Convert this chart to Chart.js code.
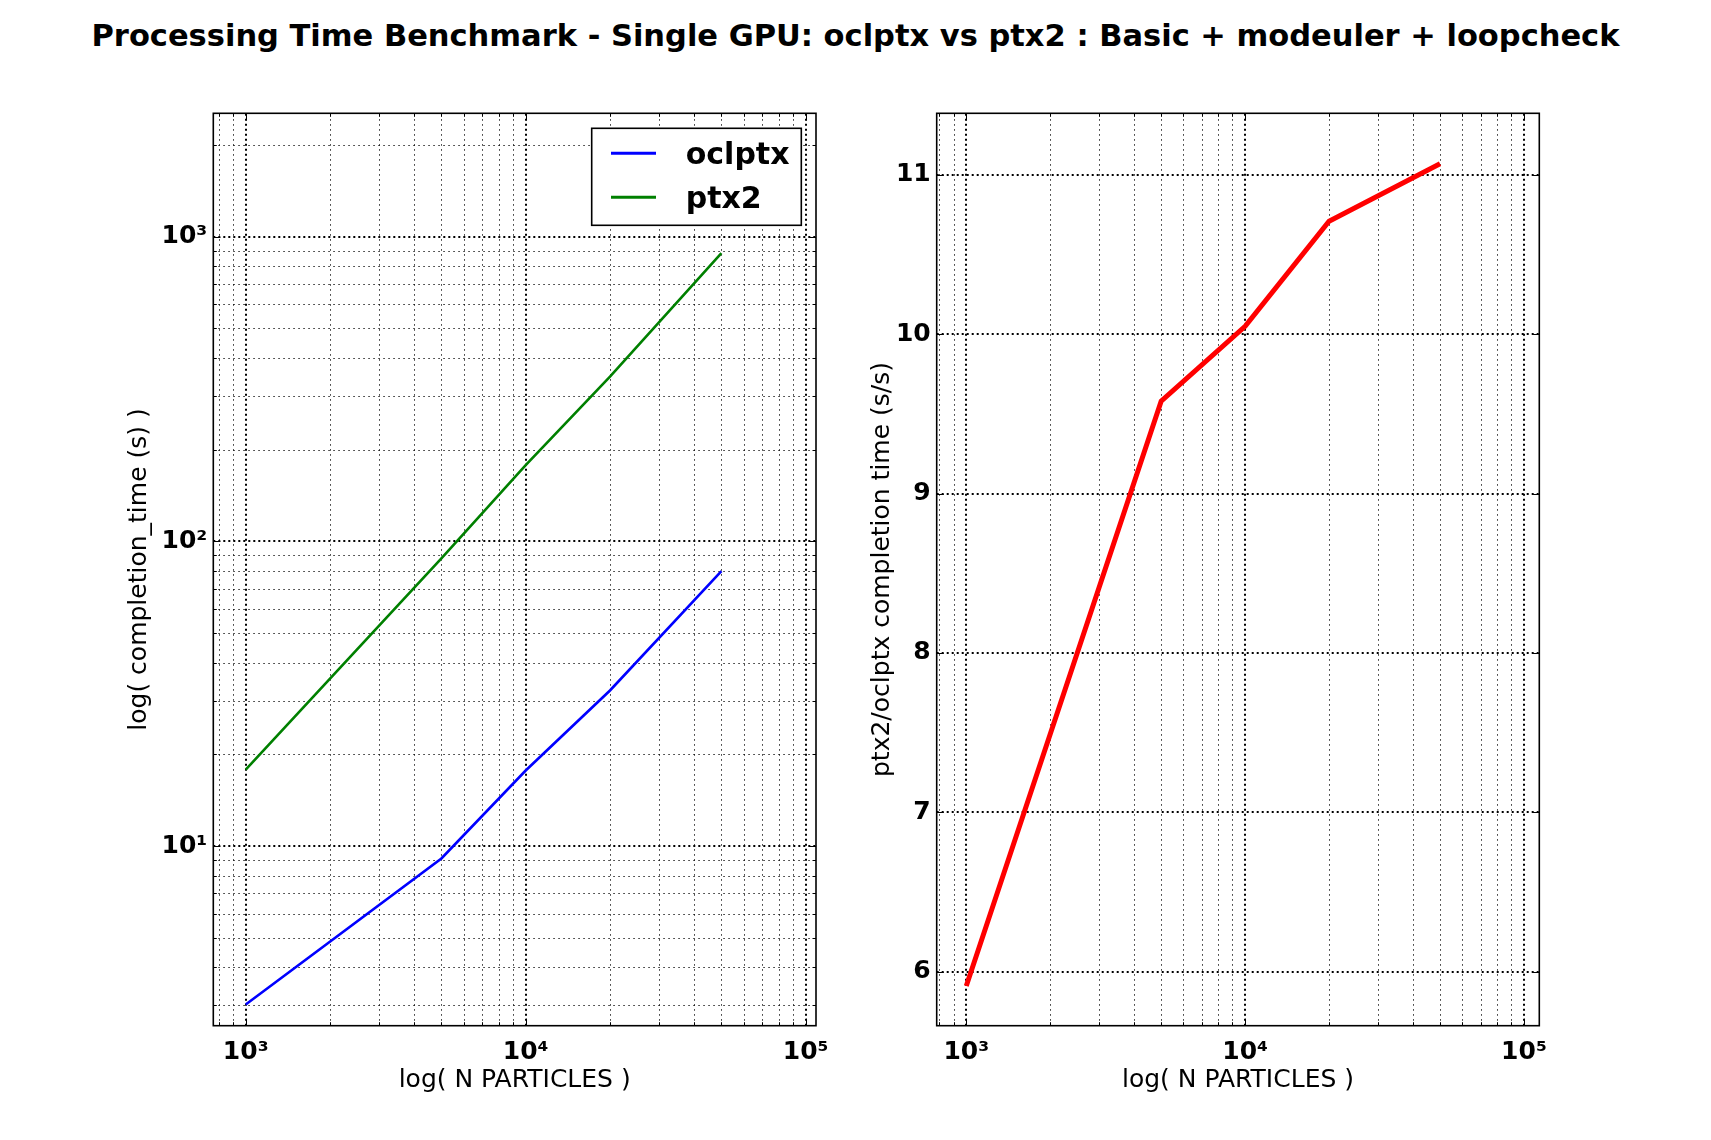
<!DOCTYPE html>
<html>
<head>
<meta charset="utf-8">
<script src="https://cdn.jsdelivr.net/npm/chart.js@4"></script>
<style>
  html, body { margin: 0; padding: 0; background: #ffffff; }
  #wrap { position: relative; width: 1711px; height: 1140px; overflow: hidden; background: #ffffff; }
  #title { position: absolute; left: 0; top: 19px; width: 1711px; text-align: center;
           font-family: 'DejaVu Sans', sans-serif; font-weight: bold; font-size: 30.5px; line-height: 34px; color: #000; }
  canvas { position: absolute; left: 0; top: 0; pointer-events: none; }
</style>
</head>
<body>
<div id="wrap">
  <div id="title">Processing Time Benchmark - Single GPU: oclptx vs ptx2 : Basic + modeuler + loopcheck</div>
  <canvas id="left" width="1711" height="1140"></canvas>
  <canvas id="right" width="1711" height="1140"></canvas>
</div>
<script>
// ---------------- data ----------------
const nParticles = [1000, 5000, 10000, 20000, 50000];
const oclptxTime = [3.02, 9.1, 17.7, 32.4, 79.8];
const ptx2Time   = [17.8, 88, 178, 347, 883];
const timeRatio  = [5.91, 9.58, 10.05, 10.71, 11.07];

const seriesNames = ['oclptx', 'ptx2'];
const ratioName = 'ptx2/oclptx';

// ---------------- ticks ----------------
const xMajorTicks = [1000, 10000, 100000];
const xTickLabels = ['10³', '10⁴', '10⁵'];
const xMinorTicks = [800, 900, 2000, 3000, 4000, 5000, 6000, 7000, 8000, 9000,
                     20000, 30000, 40000, 50000, 60000, 70000, 80000, 90000];
const yTimeMajorTicks = [10, 100, 1000];
const yTimeTickLabels = ['10¹', '10²', '10³'];
const yTimeMinorTicks = [3, 4, 5, 6, 7, 8, 9, 20, 30, 40, 50, 60, 70, 80, 90,
                         200, 300, 400, 500, 600, 700, 800, 900, 2000];
const yRatioTicks = [6, 7, 8, 9, 10, 11];
const yRatioTickLabels = ['6', '7', '8', '9', '10', '11'];

// ---------------- helpers ----------------
Chart.defaults.font.family = "'DejaVu Sans', sans-serif";
Chart.defaults.color = '#000000';

function pts(xs, ys) { return xs.map((x, i) => ({ x: x, y: ys[i] })); }

function fixedTicks(values, labels) {
  return {
    afterBuildTicks: (s) => { s.ticks = values.map(v => ({ value: v, major: true })); },
    label: (v) => { const i = values.indexOf(v); return i >= 0 ? labels[i] : ''; }
  };
}

const mplFrame = {
  id: 'mplFrame',
  beforeDatasetsDraw(chart, args, o) {
    const { ctx, chartArea: a, scales } = chart;
    const x = scales.x, y = scales.y;
    ctx.save();
    ctx.beginPath();
    ctx.rect(a.left, a.top, a.right - a.left, a.bottom - a.top);
    ctx.clip();
    const vline = (px, lw, dash, col) => {
      ctx.beginPath(); ctx.lineWidth = lw; ctx.setLineDash(dash); ctx.strokeStyle = col;
      ctx.moveTo(px, a.bottom); ctx.lineTo(px, a.top); ctx.stroke();
    };
    const hline = (py, lw, dash, col) => {
      ctx.beginPath(); ctx.lineWidth = lw; ctx.setLineDash(dash); ctx.strokeStyle = col;
      ctx.moveTo(a.left, py); ctx.lineTo(a.right, py); ctx.stroke();
    };
    (o.xMinor || []).forEach(v => vline(Math.round(x.getPixelForValue(v)) + 0.5, 1, [1.5, 3.5], 'rgba(0,0,0,0.85)'));
    (o.yMinor || []).forEach(v => hline(Math.round(y.getPixelForValue(v)) + 0.5, 1, [1.5, 3.5], 'rgba(0,0,0,0.85)'));
    (o.xMajor || []).forEach(v => vline(Math.round(x.getPixelForValue(v)), 2, [2, 3], '#000'));
    (o.yMajor || []).forEach(v => hline(Math.round(y.getPixelForValue(v)), 2, [2, 3], '#000'));
    ctx.restore();
  },
  afterDatasetsDraw(chart, args, o) {
    const { ctx, chartArea: a, scales } = chart;
    const x = scales.x, y = scales.y;
    ctx.save();
    ctx.setLineDash([]);
    ctx.strokeStyle = '#000';
    ctx.lineWidth = 1;
    const tickX = (v, len) => {
      const px = Math.round(x.getPixelForValue(v)) + 0.5;
      if (px < a.left || px > a.right) return;
      ctx.beginPath();
      ctx.moveTo(px, a.bottom); ctx.lineTo(px, a.bottom - len);
      ctx.moveTo(px, a.top); ctx.lineTo(px, a.top + len);
      ctx.stroke();
    };
    const tickY = (v, len) => {
      const py = Math.round(y.getPixelForValue(v)) + 0.5;
      if (py < a.top || py > a.bottom) return;
      ctx.beginPath();
      ctx.moveTo(a.left, py); ctx.lineTo(a.left + len, py);
      ctx.moveTo(a.right, py); ctx.lineTo(a.right - len, py);
      ctx.stroke();
    };
    (o.xMinor || []).forEach(v => tickX(v, 3.5));
    (o.yMinor || []).forEach(v => tickY(v, 3.5));
    (o.xMajor || []).forEach(v => tickX(v, 7));
    (o.yMajor || []).forEach(v => tickY(v, 7));
    // frame
    ctx.lineWidth = 1.6;
    ctx.strokeRect(a.left, a.top, a.right - a.left, a.bottom - a.top);
    // legend
    if (o.legend) {
      const ds = chart.data.datasets;
      const bw = 209.6, bh = 97;
      const bx = a.right - 14.7 - bw, by = a.top + 15;
      ctx.fillStyle = '#fff';
      ctx.fillRect(bx, by, bw, bh);
      ctx.lineWidth = 1.6;
      ctx.strokeStyle = '#000';
      ctx.strokeRect(bx, by, bw, bh);
      ds.forEach((d, i) => {
        const ly = by + 25 + i * 44;
        ctx.beginPath();
        ctx.strokeStyle = d.borderColor;
        ctx.lineWidth = 3;
        ctx.moveTo(bx + 19.3, ly); ctx.lineTo(bx + 64.3, ly); ctx.stroke();
        ctx.fillStyle = '#000';
        ctx.font = "bold 30px 'DejaVu Sans'";
        ctx.textAlign = 'left';
        ctx.textBaseline = 'alphabetic';
        ctx.fillText(d.label, bx + 94, ly + 10.5);
      });
    }
    ctx.restore();
  }
};

function axisTitle(text) {
  return { display: true, text: text, font: { size: 25, weight: 'normal' }, color: '#000', padding: { top: 4, bottom: 4 } };
}

const tickFont = { size: 25, weight: 'bold' };

// ---------------- left chart ----------------
const xL = fixedTicks(xMajorTicks, xTickLabels);
const yL = fixedTicks(yTimeMajorTicks, yTimeTickLabels);
new Chart(document.getElementById('left'), {
  type: 'line',
  data: {
    datasets: [
      { label: seriesNames[0], data: pts(nParticles, oclptxTime), borderColor: '#0000ff', borderWidth: 2.6, pointRadius: 0, tension: 0, fill: false },
      { label: seriesNames[1], data: pts(nParticles, ptx2Time), borderColor: '#008000', borderWidth: 2.6, pointRadius: 0, tension: 0, fill: false }
    ]
  },
  options: {
    responsive: false, animation: false, devicePixelRatio: 1,
    layout: { padding: { left: 120, right: 895, top: 113.3, bottom: 40.3 } },
    plugins: {
      legend: { display: false }, tooltip: { enabled: false }, title: { display: false },
      mplFrame: { xMajor: xMajorTicks, xMinor: xMinorTicks, yMajor: yTimeMajorTicks, yMinor: yTimeMinorTicks, legend: true }
    },
    scales: {
      x: {
        type: 'logarithmic', min: 766, max: 108850,
        grid: { display: false, drawTicks: false, tickLength: 0 }, border: { display: false },
        afterBuildTicks: xL.afterBuildTicks,
        afterFit: (s) => { s.height = 74; },
        ticks: { callback: xL.label, font: tickFont, color: '#000', padding: 12, autoSkip: false, maxRotation: 0 },
        title: axisTitle('log( N PARTICLES )')
      },
      y: {
        type: 'logarithmic', min: 2.572, max: 2541,
        grid: { display: false, drawTicks: false, tickLength: 0 }, border: { display: false },
        afterBuildTicks: yL.afterBuildTicks,
        afterFit: (s) => { s.width = 93.3; },
        ticks: { callback: yL.label, font: tickFont, color: '#000', padding: 6, autoSkip: false },
        title: axisTitle('log( completion_time (s) )')
      }
    }
  },
  plugins: [mplFrame]
});

// ---------------- right chart ----------------
const xR = fixedTicks(xMajorTicks, xTickLabels);
const yR = fixedTicks(yRatioTicks, yRatioTickLabels);
new Chart(document.getElementById('right'), {
  type: 'line',
  data: {
    datasets: [
      { label: ratioName, data: pts(nParticles, timeRatio), borderColor: '#ff0000', borderWidth: 5, pointRadius: 0, tension: 0, fill: false }
    ]
  },
  options: {
    responsive: false, animation: false, devicePixelRatio: 1,
    layout: { padding: { left: 863, right: 171.7, top: 113.3, bottom: 40.3 } },
    plugins: {
      legend: { display: false }, tooltip: { enabled: false }, title: { display: false },
      mplFrame: { xMajor: xMajorTicks, xMinor: xMinorTicks, yMajor: yRatioTicks, yMinor: [], legend: false }
    },
    scales: {
      x: {
        type: 'logarithmic', min: 783.4, max: 113500,
        grid: { display: false, drawTicks: false, tickLength: 0 }, border: { display: false },
        afterBuildTicks: xR.afterBuildTicks,
        afterFit: (s) => { s.height = 74; },
        ticks: { callback: xR.label, font: tickFont, color: '#000', padding: 12, autoSkip: false, maxRotation: 0 },
        title: axisTitle('log( N PARTICLES )')
      },
      y: {
        type: 'linear', min: 5.661, max: 11.387,
        grid: { display: false, drawTicks: false, tickLength: 0 }, border: { display: false },
        afterBuildTicks: yR.afterBuildTicks,
        afterFit: (s) => { s.width = 73.7; },
        ticks: { callback: yR.label, font: tickFont, color: '#000', padding: 6, autoSkip: false },
        title: axisTitle('ptx2/oclptx completion time (s/s)')
      }
    }
  },
  plugins: [mplFrame]
});
</script>
</body>
</html>
